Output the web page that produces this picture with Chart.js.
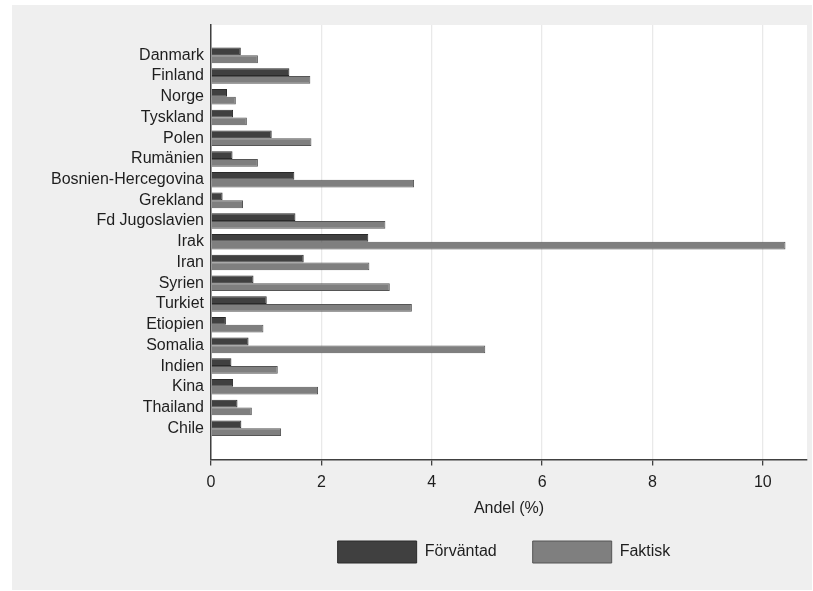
<!DOCTYPE html>
<html>
<head>
<meta charset="utf-8">
<script src="https://cdn.jsdelivr.net/npm/chart.js@4.4.1/dist/chart.umd.min.js"></script>
<style>
  html, body { margin: 0; padding: 0; background: #ffffff; }
  #wrap { position: absolute; left: 12px; top: 5px; width: 800px; height: 585px; background: #efefef; }
</style>
</head>
<body>
<div id="wrap"><canvas id="chart"></canvas></div>
<script>
const countries = ['Danmark', 'Finland', 'Norge', 'Tyskland', 'Polen', 'Rumänien', 'Bosnien-Hercegovina',
  'Grekland', 'Fd Jugoslavien', 'Irak', 'Iran', 'Syrien', 'Turkiet', 'Etiopien', 'Somalia',
  'Indien', 'Kina', 'Thailand', 'Chile'];
const forvantad = [0.54, 1.42, 0.29, 0.40, 1.10, 0.39, 1.51, 0.21, 1.53, 2.85, 1.68, 0.77, 1.01, 0.27, 0.68, 0.37, 0.40, 0.48, 0.55];
const faktisk = [0.85, 1.80, 0.45, 0.65, 1.82, 0.85, 3.68, 0.58, 3.16, 10.41, 2.87, 3.24, 3.64, 0.95, 4.97, 1.21, 1.94, 0.74, 1.27];
const seriesNames = ['Förväntad', 'Faktisk'];
const xMax = 10.8;
const xStep = 2;

const FONT = "'Liberation Sans', Arial, sans-serif";
const TEXT = '#1e1e1e';

// stata-like plot region: white, with the category band inset from the axes
const plotRegion = {
  id: 'plotRegion',
  beforeDraw(chart) {
    const { ctx, chartArea: a } = chart;
    ctx.save();
    ctx.fillStyle = '#ffffff';
    ctx.fillRect(a.left, a.top, a.right - a.left, a.bottom - a.top);
    ctx.restore();
    // axis line must still run the full height
    const y = chart.scales.y;
    y.top = a.top;
    y.bottom = a.bottom;
  },
  afterLayout(chart) {
    const a = chart.chartArea;
    const y = chart.scales.y;
    y.top = a.top + 20;
    y.bottom = a.bottom - 21;
    y.configure();
    // legend sits a little left of the plot centre
    chart.legend.left -= 5;
    chart.legend.right -= 5;
  }
};

new Chart(document.getElementById('chart'), {
  type: 'bar',
  data: {
    labels: countries,
    datasets: [
      {
        label: seriesNames[0],
        data: forvantad,
        backgroundColor: '#404040',
        borderColor: '#2a2a2a',
        borderWidth: 1
      },
      {
        label: seriesNames[1],
        data: faktisk,
        backgroundColor: '#7f7f7f',
        borderColor: '#555555',
        borderWidth: 1
      }
    ]
  },
  options: {
    indexAxis: 'y',
    responsive: true,
    maintainAspectRatio: false,
    animation: false,
    datasets: { bar: { categoryPercentage: 0.75, barPercentage: 1.0 } },
    layout: { padding: { top: 20, right: 5, bottom: 17, left: 0 } },
    scales: {
      x: {
        min: 0,
        max: xMax,
        ticks: {
          stepSize: xStep,
          includeBounds: false,
          padding: 7,
          color: TEXT,
          font: { family: FONT, size: 16 }
        },
        grid: { color: '#e9e9e9', lineWidth: 1.3, tickColor: '#404040', tickLength: 6 },
        border: { color: '#404040', width: 1.5 },
        title: {
          display: true,
          text: 'Andel (%)',
          color: TEXT,
          font: { family: FONT, size: 16 },
          padding: { top: 0, bottom: -13 }
        }
      },
      y: {
        ticks: {
          padding: 7,
          color: TEXT,
          font: { family: FONT, size: 16 }
        },
        grid: { display: false, drawTicks: false },
        border: { display: true, color: '#404040', width: 1.5 },
        afterFit(scale) { scale.width = 199; }
      }
    },
    plugins: {
      legend: {
        position: 'bottom',
        fullSize: false,
        labels: {
          boxWidth: 79,
          boxHeight: 22,
          padding: 36,
          color: TEXT,
          font: { family: FONT, size: 16 }
        }
      },
      tooltip: { enabled: false }
    }
  },
  plugins: [plotRegion]
});
</script>
</body>
</html>
